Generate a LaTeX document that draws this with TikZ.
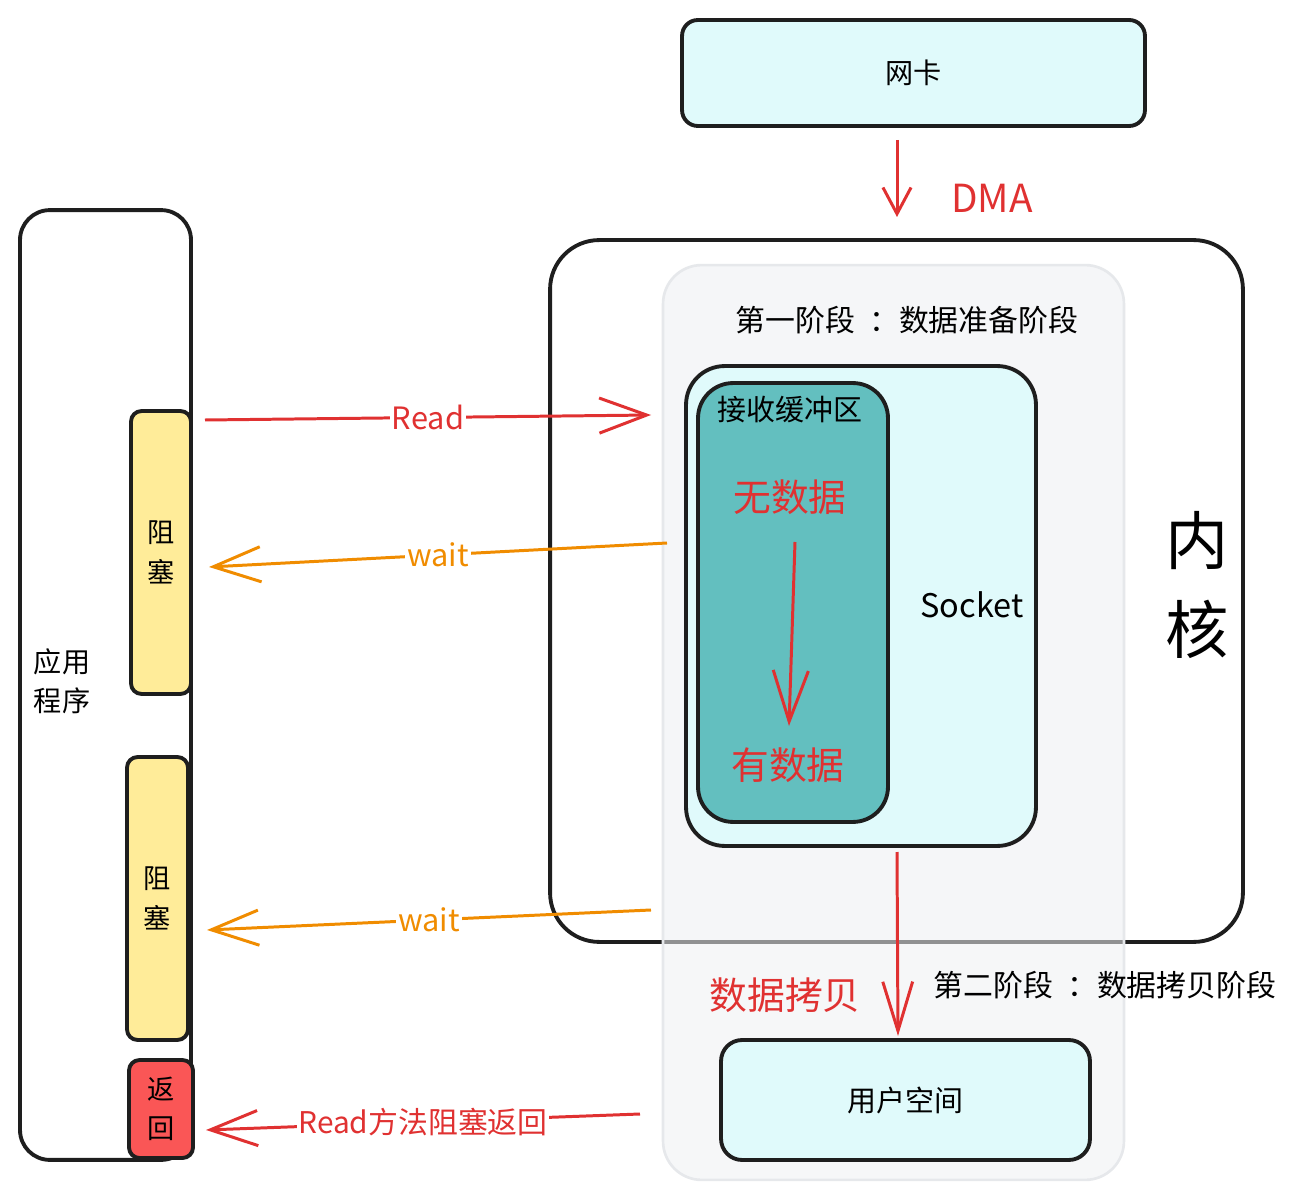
\documentclass[tikz,border=0pt]{standalone}
\usepackage{fontspec}
\setmainfont{Noto Sans CJK SC}
\usetikzlibrary{arrows.meta}
\definecolor{cyanbg}{HTML}{E0FAFB}
\definecolor{tealbg}{HTML}{63BFBF}
\definecolor{yelbg}{HTML}{FFEC99}
\definecolor{retbg}{HTML}{FA5656}
\definecolor{phasebg}{HTML}{EEF0F3}
\definecolor{phaseln}{HTML}{E6E8EB}
\definecolor{redln}{HTML}{E03131}
\definecolor{orgln}{HTML}{F08C00}
\definecolor{inkln}{HTML}{1E1E1E}

\begin{document}
\begin{tikzpicture}[x=0.02cm,y=-0.02cm]
            \tikzstyle{panel}=[draw=inkln, line width=2.2pt, inner sep=0pt]
            \tikzstyle{tag}=[fill=white, inner sep=1pt]
            \tikzstyle{rarr}=[draw=redln, line width=1.7pt,
            -{Straight Barb[length=27pt,width=20pt,line width=1.7pt]}]
            \tikzstyle{oarr}=[draw=orgln, line width=1.7pt,
            -{Straight Barb[length=27pt,width=20pt,line width=1.7pt]}]
            \useasboundingbox (0,0) rectangle (1302,1199);

            % network card
            \node[panel, fill=cyanbg, rounded corners=9pt,
            minimum width=9.26cm, minimum height=2.12cm,
            font=\fontsize{16}{19}\selectfont] (nic) at (913.5,73) {网卡};

            % kernel and first phase
            \node[panel, fill=white, rounded corners=28pt,
            minimum width=13.86cm, minimum height=14.04cm] (kern) at (896.5,591) {};
            \node[draw=phaseln, line width=1.5pt, fill=phasebg, fill opacity=0.55,
            rounded corners=22pt, inner sep=0pt,
            minimum width=9.22cm, minimum height=18.30cm] (phase) at (893.5,722.5) {};
            \node[font=\fontsize{17}{20}\selectfont] (ph1) at (907,320)
            {第一阶段\hspace{8pt}：数据准备阶段};

            \node[panel, fill=cyanbg, rounded corners=22pt,
            minimum width=7.00cm, minimum height=9.60cm] (sock) at (861,606) {};
            \node[panel, fill=tealbg, rounded corners=20pt,
            minimum width=3.80cm, minimum height=8.78cm] (buf) at (793,602.5) {};
            \node[font=\fontsize{16.5}{19}\selectfont] (buft) at (790,410) {接收缓冲区};
            \node[text=redln, font=\fontsize{21.5}{25}\selectfont] (nod) at (790,497) {无数据};
            \node[text=redln, font=\fontsize{21.5}{25}\selectfont] (hasd) at (788,765) {有数据};
            \node[font=\fontsize{18.5}{21}\selectfont] (sockt) at (972,605) {Socket};
            \node[align=center, font=\fontsize{36}{51}\selectfont] (kernt) at (1197,585) {内\\核};

            % user space
            \node[panel, fill=cyanbg, rounded corners=12pt,
            minimum width=7.38cm, minimum height=2.40cm,
            font=\fontsize{16.5}{19}\selectfont] (user) at (905.5,1100) {用户空间};
            \node[text=redln, font=\fontsize{21.5}{25}\selectfont] (cpyt) at (785,995) {数据拷贝};
            \node[font=\fontsize{17}{20}\selectfont] (ph2) at (1105,985)
            {第二阶段\hspace{8pt}：数据拷贝阶段};

            % application
            \node[panel, fill=white, rounded corners=17pt,
            minimum width=3.42cm, minimum height=19.00cm] (app) at (105.5,685) {};
            \node[align=center, font=\fontsize{16}{22}\selectfont] (appt) at (62,681) {应用\\程序};
            \node[panel, fill=yelbg, rounded corners=6pt, align=center,
            minimum width=1.20cm, minimum height=5.66cm,
            font=\fontsize{15.5}{22.5}\selectfont] (blk1) at (161,552.5) {阻\\塞};
            \node[panel, fill=yelbg, rounded corners=6pt, align=center,
            minimum width=1.22cm, minimum height=5.66cm,
            font=\fontsize{15.5}{22.5}\selectfont] (blk2) at (157.5,898.5) {阻\\塞};
            \node[panel, fill=retbg, rounded corners=6pt, align=center,
            minimum width=1.28cm, minimum height=1.96cm,
            font=\fontsize{15.5}{22.5}\selectfont] (ret) at (161,1109) {返\\回};

            % arrow ends
            \coordinate (dmaA) at (897,140);
            \coordinate (dmaB) at (897,217);
            \coordinate (rdA) at (205,420);
            \coordinate (rdB) at (651,415);
            \coordinate (w1A) at (667,543);
            \coordinate (w1B) at (209,567);
            \coordinate (w2A) at (651,910);
            \coordinate (w2B) at (207,930);
            \coordinate (rtA) at (640,1114);
            \coordinate (rtB) at (206,1130);
            \coordinate (inA) at (795,542);
            \coordinate (inB) at (789,726);
            \coordinate (cpA) at (897,852);
            \coordinate (cpB) at (898,1036);

            \path[draw=redln, line width=1.7pt,
            -{Straight Barb[length=15pt,width=16pt,line width=1.7pt]}] (dmaA) -- (dmaB);
            \node[text=redln, font=\fontsize{22}{26}\selectfont] (dmat) at (992,198) {DMA};

            \path[rarr] (rdA) -- node[tag, text=redln, font=\fontsize{17.5}{20}\selectfont] (rdt) {Read} (rdB);
            \path[oarr] (w1A) -- node[tag, text=orgln, font=\fontsize{17.5}{20}\selectfont] (w1t) {wait} (w1B);
            \path[oarr] (w2A) -- node[tag, text=orgln, font=\fontsize{17.5}{20}\selectfont] (w2t) {wait} (w2B);
            \path[rarr] (rtA) -- node[tag, text=redln, font=\fontsize{17}{20}\selectfont] (rtt) {Read方法阻塞返回} (rtB);

            \path[draw=redln, line width=1.7pt,
            -{Straight Barb[length=29pt,width=20pt,line width=1.7pt]}] (inA) -- (inB);
            \path[draw=redln, line width=1.7pt,
            -{Straight Barb[length=28pt,width=17pt,line width=1.7pt]}] (cpA) -- (cpB);
\end{tikzpicture}
\end{document}
